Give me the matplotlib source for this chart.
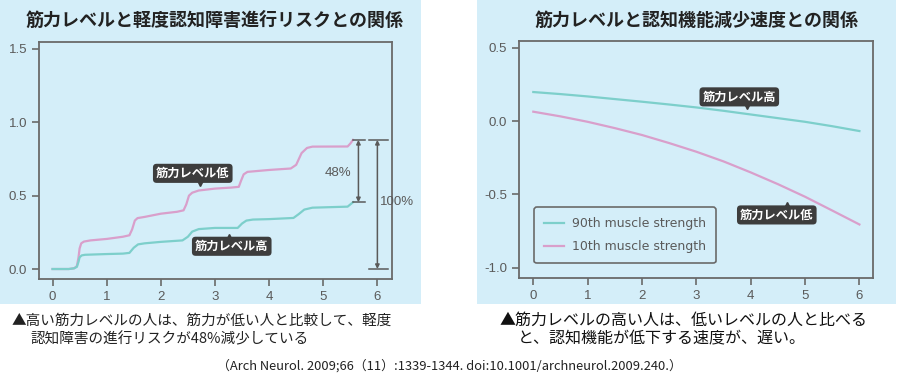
import matplotlib

matplotlib.use("Agg")
import matplotlib.pyplot as plt
from matplotlib.patches import Rectangle

plt.rcParams["font.family"] = ["Noto Sans CJK JP", "DejaVu Sans"]
plt.rcParams["axes.unicode_minus"] = False

# --- left: cumulative risk of MCI progression (step curves) ---
low_x = [0.0, 0.3, 0.4, 0.45, 0.48, 0.5, 0.53, 0.58, 0.7, 1.0, 1.3, 1.42, 1.47, 1.52, 1.57, 1.7,
         2.0, 2.3, 2.42, 2.47, 2.52, 2.58, 2.7, 3.0, 3.3, 3.44, 3.48, 3.53, 3.6, 4.0, 4.4, 4.5,
         4.6, 4.7, 4.8, 5.45, 5.5, 5.55]
risk_low = [0.0, 0.0, 0.005, 0.02, 0.08, 0.14, 0.175, 0.187, 0.195, 0.205, 0.22, 0.23, 0.27, 0.33,
            0.347, 0.355, 0.377, 0.39, 0.40, 0.44, 0.5, 0.52, 0.535, 0.548, 0.555, 0.56, 0.6, 0.645,
            0.662, 0.675, 0.685, 0.71, 0.79, 0.825, 0.834, 0.835, 0.855, 0.88]
high_x = [0.0, 0.3, 0.4, 0.45, 0.48, 0.5, 0.54, 0.6, 1.0, 1.3, 1.42, 1.5, 1.58, 1.7, 2.0, 2.4,
          2.5, 2.58, 2.7, 3.0, 3.42, 3.5, 3.58, 3.7, 4.0, 4.45, 4.55, 4.65, 4.8, 5.45, 5.5, 5.55]
risk_high = [0.0, 0.0, 0.005, 0.015, 0.05, 0.08, 0.093, 0.097, 0.102, 0.105, 0.11, 0.145, 0.168,
             0.175, 0.185, 0.195, 0.22, 0.255, 0.272, 0.28, 0.28, 0.31, 0.33, 0.337, 0.34, 0.348,
             0.375, 0.405, 0.418, 0.425, 0.44, 0.455]

# --- right: cognitive decline trajectories ---
decl_x = [0, 0.5, 1, 1.5, 2, 2.5, 3, 3.5, 4, 4.5, 5, 5.5, 6]
decl_90th = [0.198, 0.184, 0.168, 0.15, 0.132, 0.113, 0.093, 0.07, 0.045, 0.02, -0.005, -0.035, -0.068]
decl_10th = [0.064, 0.032, -0.005, -0.048, -0.095, -0.15, -0.209, -0.275, -0.35, -0.43, -0.516, -0.61, -0.705]

x_ticks = [0, 1, 2, 3, 4, 5, 6]
left_yticks = [0.0, 0.5, 1.0, 1.5]
right_yticks = [0.5, 0.0, -0.5, -1.0]

BG = "#d4eef9"
TEAL = "#7dcfcb"
PINK = "#d99fcb"
GRAY = "#5a5a5a"
LABEL_BG = "#3d3d3d"

fig = plt.figure(figsize=(8.99, 3.88), dpi=100)
W, H = 899, 388

# panel backgrounds (behind the axes)
fig.patches.append(Rectangle((0 / W, 1 - 304 / H), 421 / W, 304 / H, transform=fig.transFigure,
                             facecolor=BG, edgecolor="none", zorder=-5))
fig.patches.append(Rectangle((477 / W, 1 - 304 / H), 419 / W, 304 / H, transform=fig.transFigure,
                             facecolor=BG, edgecolor="none", zorder=-5))

ax1 = fig.add_axes([39 / W, 1 - 279 / H, 353 / W, 237 / H])
ax2 = fig.add_axes([519 / W, 1 - 278 / H, 354 / W, 237 / H])


def style(ax, yticks):
    ax.set_facecolor(BG)
    for s in ax.spines.values():
        s.set_color("#6a6a6a")
        s.set_linewidth(1.3)
    ax.set_xticks(x_ticks)
    ax.set_xticklabels([str(t) for t in x_ticks])
    ax.set_yticks(yticks)
    ax.set_yticklabels([f"{t:.1f}" for t in yticks])
    ax.tick_params(colors="#6a6a6a", labelcolor=GRAY, length=5, width=1.2, labelsize=9.5)
    for lab in ax.get_xticklabels() + ax.get_yticklabels():
        lab.set_family("Liberation Sans")


def tag(ax, text, xy, tip, up):
    ax.text(xy[0], xy[1], text, ha="center", va="center", color="white", fontsize=8.8,
            fontweight="bold", zorder=5,
            bbox=dict(boxstyle="round,pad=0.25,rounding_size=0.3", facecolor=LABEL_BG, edgecolor="none"))
    ax.plot(tip[0], tip[1], marker="^" if up else "v", color=LABEL_BG, markersize=5, zorder=5)


# left chart
style(ax1, left_yticks)
ax1.set_xlim(-0.25, 6.27)
ax1.set_ylim(-0.068, 1.547)
ax1.plot(low_x, risk_low, color=PINK, lw=1.6)
ax1.plot(high_x, risk_high, color=TEAL, lw=1.6)

top = risk_low[-1]
mid = risk_high[-1]
ax1.annotate("", xy=(5.65, mid), xytext=(5.65, top),
             arrowprops=dict(arrowstyle="<|-|>", color=GRAY, lw=1.1, mutation_scale=6, shrinkA=0, shrinkB=0))
ax1.plot([5.55, 5.78], [top, top], color=GRAY, lw=1.1)
ax1.plot([5.55, 5.78], [mid, mid], color=GRAY, lw=1.1)
ax1.annotate("", xy=(6.0, 0.0), xytext=(6.0, top),
             arrowprops=dict(arrowstyle="<|-|>", color=GRAY, lw=1.1, mutation_scale=6, shrinkA=0, shrinkB=0))
ax1.plot([5.85, 6.2], [top, top], color=GRAY, lw=1.1, clip_on=False)
ax1.plot([5.85, 6.2], [0.0, 0.0], color=GRAY, lw=1.1, clip_on=False)
ax1.text(5.27, 0.655, "48%", ha="center", va="center", color=GRAY, fontsize=9.5, family="Liberation Sans")
ax1.text(6.37, 0.46, "100%", ha="center", va="center", color=GRAY, fontsize=9.5, family="Liberation Sans",
         clip_on=False)

tag(ax1, "筋力レベル低", (2.59, 0.652), (2.72, 0.585), up=False)
tag(ax1, "筋力レベル高", (3.31, 0.155), (3.26, 0.22), up=True)

# right chart
style(ax2, right_yticks)
ax2.set_xlim(-0.263, 6.25)
ax2.set_ylim(-1.07, 0.546)
ax2.plot(decl_x, decl_90th, color=TEAL, lw=1.6, label="90th muscle strength")
ax2.plot(decl_x, decl_10th, color=PINK, lw=1.6, label="10th muscle strength")
tag(ax2, "筋力レベル高", (3.79, 0.165), (3.93, 0.1), up=False)
tag(ax2, "筋力レベル低", (4.48, -0.64), (4.67, -0.575), up=True)

leg = ax2.legend(loc="lower left", bbox_to_anchor=(0.025, 0.035), frameon=True, fancybox=True,
                 facecolor=BG, edgecolor="#6a6a6a", framealpha=1, handlelength=1.6,
                 prop={"family": "DejaVu Sans", "size": 9}, labelcolor=GRAY, borderpad=0.8,
                 labelspacing=0.8, handletextpad=0.6)
leg.get_frame().set_linewidth(1.2)

# titles
fig.text(215 / W, 1 - 20 / H, "筋力レベルと軽度認知障害進行リスクとの関係", ha="center", va="center",
         fontsize=13, fontweight="bold", color="#222222")
fig.text(697 / W, 1 - 20 / H, "筋力レベルと認知機能減少速度との関係", ha="center", va="center",
         fontsize=13, fontweight="bold", color="#222222")

# captions
fig.text(12 / W, 1 - 321 / H, "▲高い筋力レベルの人は、筋力が低い人と比較して、軽度", ha="left", va="center",
         fontsize=10.5, color="#222222")
fig.text(30 / W, 1 - 339 / H, "認知障害の進行リスクが48%減少している", ha="left", va="center",
         fontsize=10.5, color="#222222")
fig.text(500 / W, 1 - 320 / H, "▲筋力レベルの高い人は、低いレベルの人と比べる", ha="left", va="center",
         fontsize=11.5, color="#111111")
fig.text(518 / W, 1 - 339 / H, "と、認知機能が低下する速度が、遅い。", ha="left", va="center",
         fontsize=11.5, color="#111111")
fig.text(449 / W, 1 - 366 / H, "（Arch Neurol. 2009;66（11）:1339-1344. doi:10.1001/archneurol.2009.240.）",
         ha="center", va="center", fontsize=9.3, color="#222222")

fig.savefig("out.png", dpi=100, facecolor="white")
